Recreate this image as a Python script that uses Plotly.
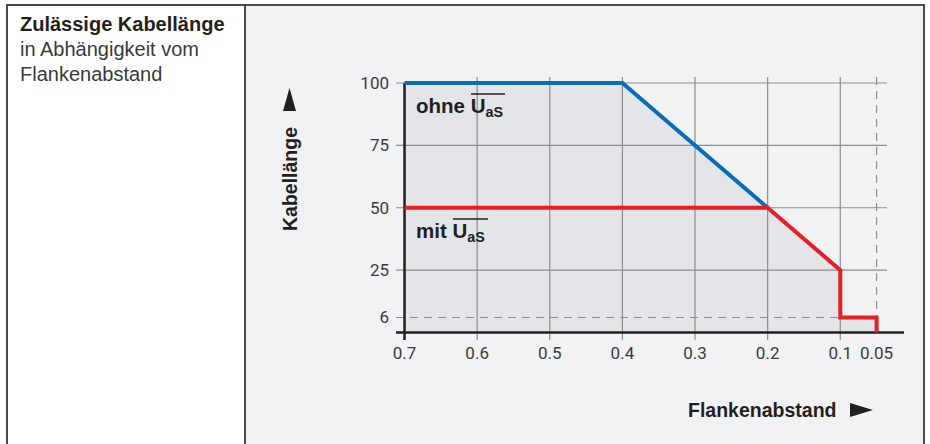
import plotly.graph_objects as go

# ---- data ----
x_ticks = [0.7, 0.6, 0.5, 0.4, 0.3, 0.2, 0.1, 0.05]
x_ticktext = ["0.7", "0.6", "0.5", "0.4", "0.3", "0.2", "0.1", "0.05"]
y_ticks = [6, 25, 50, 75, 100]
y_ticktext = ["6", "25", "50", "75", "100"]

ohne_x = [0.7, 0.4, 0.2]
ohne_y = [100, 100, 50]
mit_x = [0.7, 0.2, 0.1, 0.1, 0.05, 0.05]
mit_y = [50, 50, 25, 6, 6, 0]

# ---- geometry / style ----
W, H = 930, 444
ML, MR, MT, MB = 390, 24, 77, 103
PW, PH = W - ML - MR, H - MT - MB
XR = [0.72, 0.0095]
YR = [-3.41, 102.4]

def px2x(px):
    return XR[0] + (px - ML) / PW * (XR[1] - XR[0])

def py2y(py):
    return YR[1] - (py - MT) / PH * (YR[1] - YR[0])

def P(px, py):
    return (px - ML) / PW, (H - MB - py) / PH

BLUE = "#0b6db7"
RED = "#ec1c24"
GRID = "#8d8d8d"
AXIS = "#231f20"
FILL = "#e4e5e8"
BG = "#f1f2f4"
TXT = "#231f20"

fig = go.Figure()

# envelope fill (area under both curves)
env_x = [ohne_x[0]] + ohne_x + mit_x[2:] + [ohne_x[0]]
env_y = [0] + ohne_y + mit_y[2:] + [0]
fig.add_trace(go.Scatter(x=env_x, y=env_y, fill="toself", fillcolor=FILL,
                         mode="none", hoverinfo="skip", showlegend=False))

def seg(xs, ys, color, width, dash="solid"):
    fig.add_trace(go.Scatter(x=xs, y=ys, mode="lines",
                             line=dict(color=color, width=width, dash=dash),
                             hoverinfo="skip", showlegend=False))

x_left_ext = px2x(396)
x_right_ext = px2x(887)
y_bottom_ext = py2y(340)
y_top_ext = py2y(77)

# vertical grid lines
for xv in x_ticks[1:-1]:
    seg([xv, xv], [y_bottom_ext, y_top_ext], GRID, 1.2)
# horizontal grid lines
for yv in y_ticks[1:]:
    seg([x_left_ext, x_right_ext], [yv, yv], GRID, 1.2)
# dashed 6 line and 0.05 line
seg([x_left_ext, 0.1], [6, 6], GRID, 1.2, "8px,6px")
seg([0.05, 0.05], [y_top_ext, 0], GRID, 1.2, "8px,6px")

# axis lines
seg([0.7, 0.7], [y_bottom_ext, 100], AXIS, 2.5)
seg([x_left_ext, px2x(904)], [0, 0], AXIS, 2.5)

# curves
seg(ohne_x, ohne_y, BLUE, 4)
seg(mit_x, mit_y, RED, 4)

shapes = []
# right cell background and frame
x0, y0 = P(245, 5)
x1, y1 = P(924, 450)
shapes.append(dict(type="rect", xref="paper", yref="paper", x0=x0, y0=y1, x1=x1, y1=y0,
                   fillcolor=BG, line=dict(width=0), layer="below"))
def pline(a, b, c, d, color="#4a4a4a", w=2):
    xa, ya = P(a, b)
    xb, yb = P(c, d)
    shapes.append(dict(type="line", xref="paper", yref="paper", x0=xa, y0=ya, x1=xb, y1=yb,
                       line=dict(color=color, width=w)))
pline(6, 5, 925, 5)
pline(7, 4, 7, 450)
pline(245, 5, 245, 450)
pline(924, 4, 924, 450)

# overlines for U_aS
pline(471, 94, 505, 94, AXIS, 1.6)
pline(453, 219, 488, 219, AXIS, 1.6)

# arrows
def tri(pts):
    path = "M " + " L ".join(f"{P(a, b)[0]},{P(a, b)[1]}" for a, b in pts) + " Z"
    shapes.append(dict(type="path", xref="paper", yref="paper", path=path,
                       fillcolor=AXIS, line=dict(width=0)))
tri([(283, 111), (296, 111), (289.5, 88)])
tri([(850, 403), (850, 417), (873, 410)])

annotations = []
def ann(px, py, text, size, xanchor="left", angle=0, color=TXT):
    x, y = P(px, py)
    annotations.append(dict(xref="paper", yref="paper", x=x, y=y, text=text,
                            showarrow=False, xanchor=xanchor, yanchor="middle",
                            textangle=angle,
                            font=dict(size=size, color=color, family="Liberation Sans")))

ann(18, 24, "<b>Zulässige Kabellänge</b>", 20)
ann(18, 49, "in Abhängigkeit vom", 20, color="#3a3a3a")
ann(18, 74, "Flankenabstand", 20, color="#3a3a3a")
ann(290, 179, "<b>Kabellänge</b>", 19.5, xanchor="center", angle=-90)
ann(686, 410, "<b>Flankenabstand</b>", 19.5)
ann(414, 107, "<b>ohne U<sub>aS</sub></b>", 20.5)
ann(414, 232, "<b>mit U<sub>aS</sub></b>", 20.5)

fig.update_layout(
    width=W, height=H,
    margin=dict(l=ML, r=MR, t=MT, b=MB, pad=0),
    paper_bgcolor="white",
    plot_bgcolor="rgba(0,0,0,0)",
    shapes=shapes,
    annotations=annotations,
    showlegend=False,
    xaxis=dict(range=XR, tickvals=x_ticks, ticktext=x_ticktext, showgrid=False,
               zeroline=False, showline=False, ticks="", fixedrange=True,
               tickfont=dict(size=17, color="#3b3b3b", family="Roboto")),
    yaxis=dict(range=YR, tickvals=y_ticks, ticktext=y_ticktext, showgrid=False,
               zeroline=False, showline=False, ticks="", fixedrange=True,
               tickfont=dict(size=17, color="#3b3b3b", family="Roboto")),
)

fig.write_html("out.html", config=dict(displayModeBar=False),
               post_script="document.body.style.margin='0';")
